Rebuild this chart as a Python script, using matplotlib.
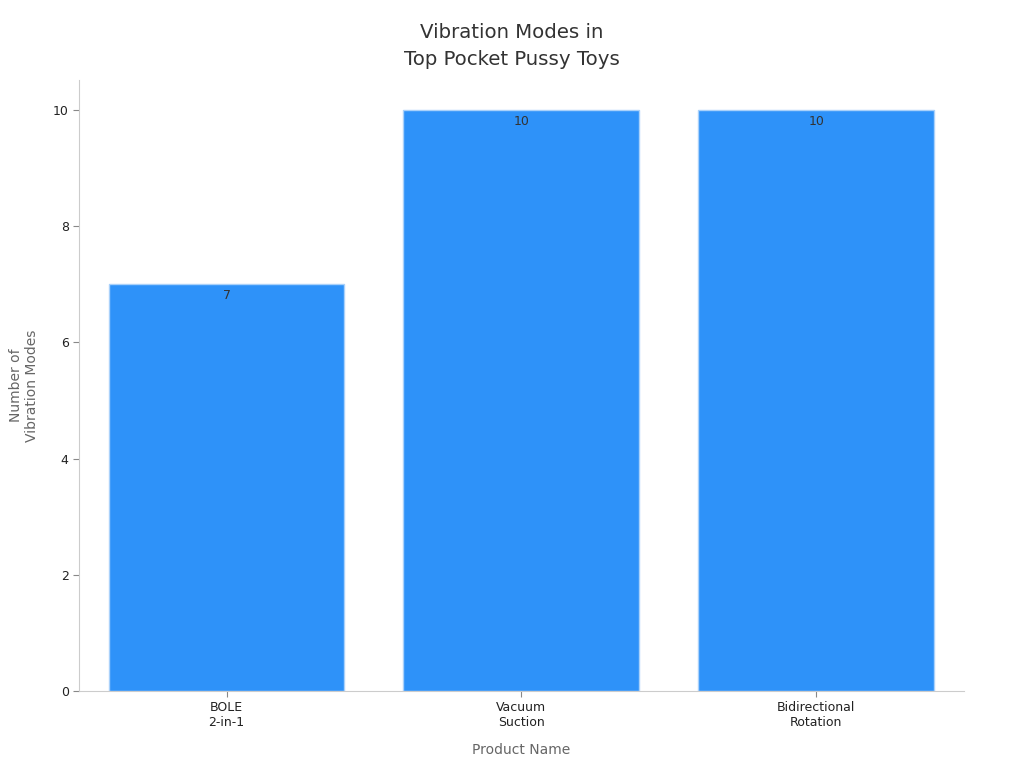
import matplotlib.pyplot as plt

products = ["BOLE\n2-in-1", "Vacuum\nSuction", "Bidirectional\nRotation"]
modes = [7, 10, 10]

fig = plt.figure(figsize=(10.24, 7.68), dpi=100)
ax = fig.add_axes([0.0772, 0.1003, 0.864, 0.7956])

bars = ax.bar(range(len(products)), modes, width=0.8, color='#2e92f9',
              edgecolor='#a9d1fa', linewidth=1)

for b, v in zip(bars, modes):
    ax.text(b.get_x() + b.get_width() / 2, v - 0.08, str(v), ha='center', va='top',
            fontsize=9, color='#333333')

ax.set_xlim(-0.5, 2.5)
ax.set_ylim(0, 10.52)
ax.set_xticks(range(len(products)))
ax.set_xticklabels(products, fontsize=9, color='#222222')
ax.set_yticks([0, 2, 4, 6, 8, 10])
ax.tick_params(axis='y', labelsize=9, colors='#222222', length=4, color='#888888')
ax.tick_params(axis='x', length=4, color='#888888')

for s in ['top', 'right']:
    ax.spines[s].set_visible(False)
for s in ['left', 'bottom']:
    ax.spines[s].set_color('#cccccc')

ax.set_xlabel("Product Name", fontsize=10, color='#666666', labelpad=10)
ax.set_ylabel("Number of\nVibration Modes", fontsize=10, color='#666666', labelpad=10)
fig.text(0.5, 1 - 69 / 768, "Vibration Modes in\nTop Pocket Pussy Toys", fontsize=14.2,
         color='#333333', ha='center', va='bottom', linespacing=1.5)

plt.savefig("out.png", dpi=100)
